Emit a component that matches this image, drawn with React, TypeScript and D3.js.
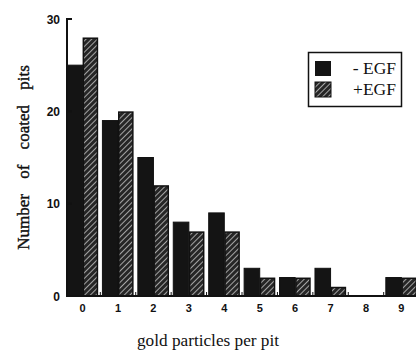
import React from "react";
import * as d3 from "d3";

const categories = ["0", "1", "2", "3", "4", "5", "6", "7", "8", "9"];
const minusEGF = [25, 19, 15, 8, 9, 3, 2, 3, 0, 2];
const plusEGF = [28, 20, 12, 7, 7, 2, 2, 1, 0, 2];
const yTicks = [0, 10, 20, 30];
const seriesLabels = ["- EGF", "+EGF"];

export default function App() {
  const W = 416, H = 351;
  const x0 = 67, x1 = 417, yBase = 296, yTop = 19;
  const x = d3.scaleBand<string>().domain(categories).range([x0, x1]).paddingInner(0.12).paddingOuter(0);
  const sub = d3.scaleBand<string>().domain(["m", "p"]).range([0, x.bandwidth()]);
  const y = d3.scaleLinear().domain([0, 30]).range([yBase, yTop]);
  const serif = "'Liberation Serif', 'Times New Roman', serif";
  const sans = "'Liberation Sans', Arial, sans-serif";
  const gaps = categories.slice(1).map((c) => (x(c)! - (x.step() - x.bandwidth()) / 2));

  return (
    <svg width={W} height={H} style={{ position: "absolute", left: 0, top: 0, background: "#fff" }}>
      <defs>
        <pattern id="hatch" patternUnits="userSpaceOnUse" width="4" height="4" patternTransform="rotate(45)">
          <rect width="4" height="4" fill="#262626" />
          <line x1="0" y1="0" x2="0" y2="4" stroke="#cfcfcf" strokeWidth="1.5" />
        </pattern>
      </defs>
      <rect width={W} height={H} fill="#fff" />
      {categories.map((c, i) => (
        <g key={c}>
          {minusEGF[i] > 0 && (
            <rect x={x(c)! + sub("m")!} y={y(minusEGF[i])} width={sub.bandwidth()} height={yBase - y(minusEGF[i])}
              fill="#141414" stroke="#111" strokeWidth={1} />
          )}
          {plusEGF[i] > 0 && (
            <rect x={x(c)! + sub("p")! + 0.75} y={y(plusEGF[i]) + 0.75} width={sub.bandwidth() - 1.5} height={yBase - y(plusEGF[i]) - 0.75}
              fill="url(#hatch)" stroke="#111" strokeWidth={1.5} />
          )}
        </g>
      ))}
      {/* axes */}
      <line x1={x0} x2={x0} y1={yTop - 1} y2={yBase + 1} stroke="#111" strokeWidth={2} />
      <line x1={x0 - 1} x2={x1 - 1} y1={yBase} y2={yBase} stroke="#111" strokeWidth={2} />
      {yTicks.map((t) => (
        <g key={t}>
          <line x1={x0} x2={x0 + 5} y1={y(t)} y2={y(t)} stroke="#111" strokeWidth={2} />
          <text x={60} y={y(t) + 4.5} textAnchor="end" fontFamily={sans} fontWeight="bold" fontSize={12} fill="#111">{t}</text>
        </g>
      ))}
      {gaps.map((g, i) => (
        <line key={i} x1={g} x2={g} y1={yBase} y2={yBase - 4} stroke="#111" strokeWidth={1} />
      ))}
      {categories.map((c) => (
        <text key={c} x={x(c)! + x.bandwidth() / 2} y={312} textAnchor="middle" fontFamily={sans} fontWeight="bold" fontSize={11} fill="#111">{c}</text>
      ))}
      <text x={208} y={346} textAnchor="middle" fontFamily={serif} fontSize={16} fill="#111" textLength={142} lengthAdjust="spacingAndGlyphs">gold particles per pit</text>
      <text transform="translate(29,157.5) rotate(-90)" textAnchor="middle" fontFamily={serif} fontSize={17} fill="#111"
        stroke="#111" strokeWidth={0.4} wordSpacing={11}>Number of coated pits</text>
      {/* legend */}
      <rect x={308.5} y={52.5} width={93} height={54} fill="#fff" stroke="#111" strokeWidth={1.5} />
      <rect x={315} y={61} width={16} height={15} fill="#141414" />
      <rect x={315} y={82} width={16} height={15} fill="url(#hatch)" stroke="#111" strokeWidth={1} />
      <text x={396} y={74} textAnchor="end" fontFamily={serif} fontSize={17.5} fill="#111">{seriesLabels[0]}</text>
      <text x={396} y={95} textAnchor="end" fontFamily={serif} fontSize={17.5} fill="#111">{seriesLabels[1]}</text>
    </svg>
  );
}
